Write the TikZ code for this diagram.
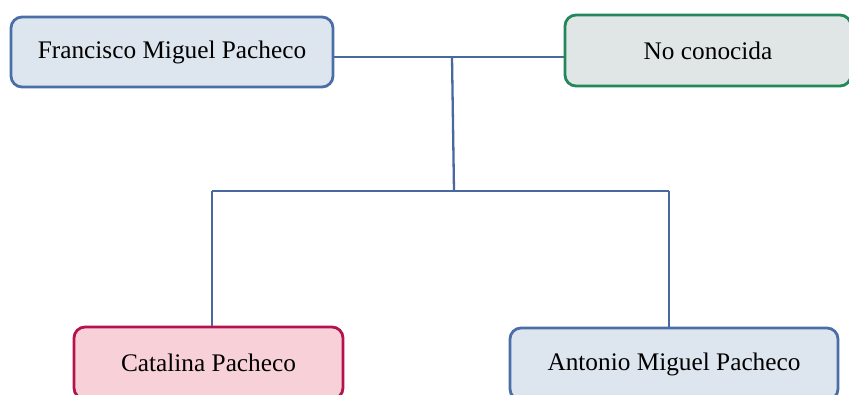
\documentclass[tikz,border=0pt]{standalone}
\usepackage{fontspec}
\setmainfont{Liberation Serif}
\definecolor{bluestroke}{HTML}{4A6EA8}
\definecolor{bluefill}{HTML}{DDE5EF}
\definecolor{greenstroke}{HTML}{22875A}
\definecolor{greenfill}{HTML}{DFE6E5}
\definecolor{pinkstroke}{HTML}{B4134E}
\definecolor{pinkfill}{HTML}{F7D1D7}
\definecolor{linkcol}{HTML}{4A68A0}
\tikzset{
  person/.style={draw, line width=2.8pt, rounded corners=11pt, inner sep=0pt,
    font=\fontsize{25.3}{28}\selectfont, text=black},
  male/.style={person, draw=bluestroke, fill=bluefill},
  unknown/.style={person, draw=greenstroke, fill=greenfill},
  female/.style={person, draw=pinkstroke, fill=pinkfill},
  link/.style={draw=linkcol, line width=2.3pt}
}
\begin{document}
\begin{tikzpicture}[x=1pt, y=-1pt]
  \useasboundingbox (0,0) rectangle (849,394);
  \clip (0,0) rectangle (849,394);
  % parents
  \node[male, minimum width=322pt, minimum height=70pt] (fmp) at (172,52) {Francisco Miguel Pacheco};
  \node[unknown, minimum width=286pt, minimum height=71pt] (nc) at (708,50.5) {No conocida};
  % children
  \node[female, minimum width=269pt, minimum height=72pt] (cat) at (208.5,363) {Catalina Pacheco};
  \node[male, minimum width=328pt, minimum height=72pt] (amp) at (674,364) {Antonio Miguel Pacheco};
  % junctions
  \coordinate (j) at (452,57);
  \coordinate (k) at (454,191);
  \coordinate (kl) at (212,191);
  \coordinate (kr) at (669,191);
  % connectors
  \draw[link] (fmp.east |- j) -- (nc.west |- j);
  \draw[link] (j) -- (k);
  \draw[link] (kl) -- (kr);
  \draw[link] (kl) -- (kl |- cat.north);
  \draw[link] (kr) -- (kr |- amp.north);
\end{tikzpicture}
\end{document}
